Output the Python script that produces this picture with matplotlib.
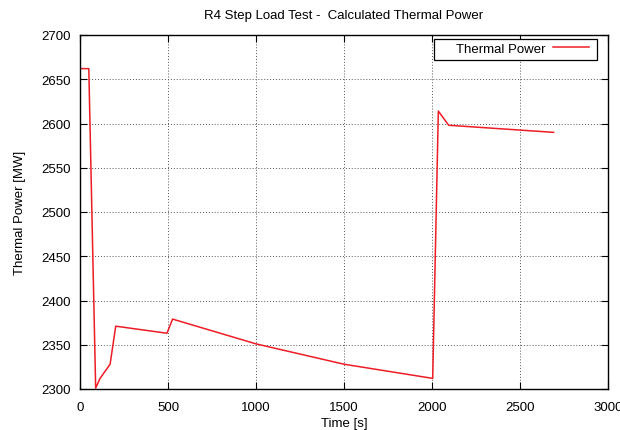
import numpy as np
import matplotlib.pyplot as plt
from matplotlib.patches import Rectangle

plt.rcParams['font.family'] = ['Liberation Sans', 'DejaVu Sans']

# values
time_s = [0, 50, 89, 114, 171, 203, 494, 526, 1000, 1500, 2004, 2036, 2095, 2691]
power_mw = [2662, 2662, 2301, 2312, 2328, 2371, 2363, 2379, 2351, 2328, 2312, 2614, 2598, 2590]

x_ticks = list(range(0, 3001, 500))
y_ticks = list(range(2300, 2701, 50))

W, H = 620, 431
fig = plt.figure(figsize=(W / 100, H / 100), dpi=100)
ax = fig.add_axes([80 / W, 1 - 390 / H, 528 / W, 354 / H])

ax.plot(time_s, power_mw, color="#ee1c25", lw=1.1, label="Thermal Power")

ax.set_xlim(0, 3000)
ax.set_ylim(2300, 2700)
ax.set_xticks(x_ticks)
ax.set_yticks(y_ticks)
ax.tick_params(direction="in", top=True, right=True, labelsize=9.5, length=5, width=0.8)
ax.tick_params(axis="x", pad=8.5)
ax.tick_params(axis="y", pad=6.5)
ax.grid(True, linestyle=(0, (1, 2)), color="#555555", lw=0.7)
for s in ax.spines.values():
	s.set_linewidth(1.0)

ax.set_xlabel("Time [s]", fontsize=9.5, labelpad=3)
ax.set_ylabel("Thermal Power [MW]", fontsize=9.5, labelpad=11)
ax.set_title("R4 Step Load Test -  Calculated Thermal Power", fontsize=9.5, pad=12)

# legend box drawn separately so the padding matches the reference
ax.add_patch(Rectangle((434 / W, 1 - 61 / H), 163 / W, 21 / H, transform=fig.transFigure,
	facecolor="white", edgecolor="black", lw=0.9, zorder=5, clip_on=False))
leg = ax.legend(loc="upper right", bbox_to_anchor=(592 / W, 1 - 41 / H), bbox_transform=fig.transFigure,
	markerfirst=False, frameon=False, fontsize=9.5, borderaxespad=0, handlelength=2.75,
	borderpad=0.2, handletextpad=0.6)
leg.set_zorder(6)

fig.savefig("out.png", dpi=100)
